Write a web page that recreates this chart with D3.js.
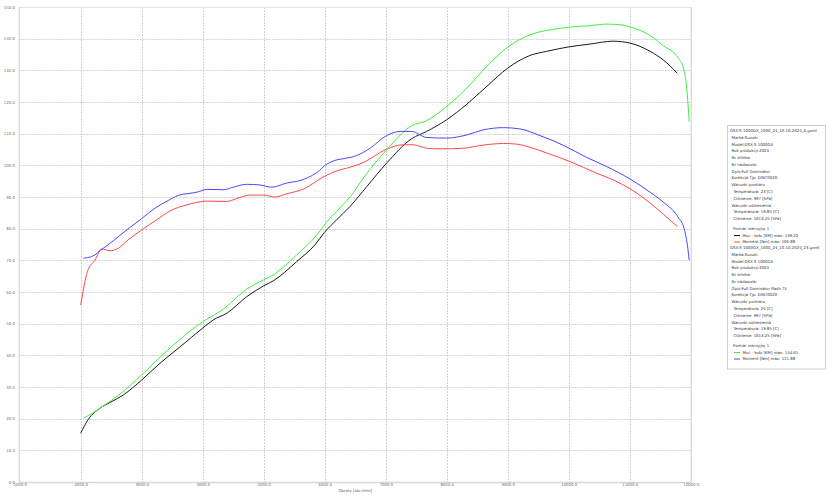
<!DOCTYPE html>
<html><head><meta charset="utf-8">
<script src="https://cdn.jsdelivr.net/npm/d3@7/dist/d3.min.js"></script>
<style>
html,body{margin:0;padding:0;background:#fff;}
svg{display:block;}
text{font-family:"DejaVu Sans",Verdana,sans-serif;}
</style></head>
<body>
<script>
// ---- data ----
const xTicks = [1000,2000,3000,4000,5000,6000,7000,8000,9000,10000,11000,12000];
const yTicks = [0,10,20,30,40,50,60,70,80,90,100,110,120,130,140,150];
const xTitle = "Obroty [obr./min]";

// Run 1: Moc (black)
const power1Rpm = [2000,2125,2315,2480,2700,3000,3300,3630,4000,4175,4395,4720,4995,5155,5540,5840,5995,6195,6415,6690,7015,7425,7670,8000,8330,8655,9000,9365,9640,10000,10350,10730,11005,11335,11550,11780];
const power1 = [15.4,19.8,23.3,25.1,27.5,32.2,37.5,42.7,48.6,51.2,53.3,58.5,61.9,63.5,69.6,74.9,78.8,82.8,87.0,93.3,100.7,108.4,110.7,114.4,119.3,124.9,130.7,134.7,136.0,137.4,138.3,139.2,138.6,136.0,133.3,129.1];

// Run 1: Moment (red)
const torque1Rpm = [2000,2110,2235,2345,2480,2615,2780,3000,3245,3465,3740,4075,4395,4555,4775,4995,5185,5375,5650,5975,6220,6360,6635,7015,7290,7450,7670,7890,8270,8600,8930,9145,9365,9640,10020,10460,10730,11005,11335,11550,11780];
const torque1 = [55.9,66.4,70.1,73.6,73.0,73.8,76.5,79.6,82.8,85.6,87.5,88.7,88.6,89.5,90.6,90.6,90.0,91.0,92.5,96.3,98.4,99.1,100.9,105.1,106.5,106.5,105.4,105.2,105.4,106.4,106.9,106.7,105.7,103.9,101.2,97.5,95.4,92.6,88.1,84.6,80.7];

// Run 2: Moc (green)
const power2Rpm = [2045,2205,2370,2645,3000,3300,3600,4000,4340,4720,4995,5130,5540,5870,6035,6195,6305,6415,6635,7015,7425,7670,8000,8330,8655,9000,9365,9695,10000,10350,10625,10840,11005,11335,11550,11795,11880,11935,11975];
const power2 = [20.1,21.9,24.0,27.8,33.8,39.4,44.6,50.6,54.6,60.9,63.8,65.1,71.7,78.0,82.2,85.4,87.7,90.0,96.0,104.9,112.5,114.1,118.6,124.4,131.2,137.3,141.2,142.8,143.6,144.1,144.6,144.4,143.7,141.0,137.8,133.9,130.7,124.4,113.8];

// Run 2: Moment (blue)
const torque2Rpm = [2045,2180,2370,2535,2755,3000,3220,3435,3600,3900,4075,4340,4500,4720,4940,5130,5375,5595,5870,6035,6195,6305,6525,6745,7015,7235,7425,7670,8000,8330,8600,8930,9200,9530,9915,10295,10625,11005,11335,11550,11795,11890,11945,11975];
const torque2 = [70.7,71.2,73.8,76.2,79.6,83.2,86.5,88.9,90.5,91.5,92.4,92.3,93.1,94.0,93.8,93.1,94.4,95.2,97.7,100.4,101.7,102.1,103.1,105.4,109.4,110.7,110.7,108.8,108.6,109.6,111.2,111.9,111.5,109.4,106.3,102.5,99.6,95.7,91.5,88.4,83.6,80.2,74.9,70.1];

const seriesNames = ["power1","torque1","power2","torque2"];
const seriesColors = ["#1a1a1a","#ff4848","#40ee40","#4848ff"];

const legend1 = [
  "GSX-S 1000GX_1000_24_10.10.2024_6.gxml",
  "Marka:Suzuki","Model:GSX-S 1000GX","Rok produkcji:2024","Nr silnika:","Nr nadwozia:",
  "Opis:Full Dominator","Korekcja Tjp: DIN70020","Warunki pomiaru",
  "Temperatura: 23 [C]","Ciśnienie: 997 [hPa]","Warunki odniesienia",
  "Temperatura: 19.85 [C]","Ciśnienie: 1013.25 [hPa]"
];
const legend2 = [
  "GSX-S 1000GX_1000_24_10.10.2024_23.gxml",
  "Marka:Suzuki","Model:GSX-S 1000GX","Rok produkcji:2024","Nr silnika:","Nr nadwozia:",
  "Opis:Full Dominator  flash 75","Korekcja Tjp: DIN70020","Warunki pomiaru",
  "Temperatura: 25 [C]","Ciśnienie: 997 [hPa]","Warunki odniesienia",
  "Temperatura: 19.85 [C]","Ciśnienie: 1013.25 [hPa]"
];
const runLabel = "Pomiar inercyjny 1";
const legendEntries1 = ["Moc - koło [KM] max: 139.22","Moment [Nm] max: 106.88"];
const legendEntries2 = ["Moc - koło [KM] max: 144.65","Moment [Nm] max: 111.88"];

// ---- drawing ----
const W = 828, H = 499;
const svg = d3.select("body").append("svg").attr("width",W).attr("height",H);
const x = d3.scaleLinear().domain([1000,12000]).range([19.7,690.7]);
const y = d3.scaleLinear().domain([0,150]).range([482,7]);

// grid
const grid = svg.append("g");
grid.selectAll("line.v").data(xTicks.slice(1,-1)).join("line")
  .attr("x1",d=>Math.round(x(d))+0.5).attr("x2",d=>Math.round(x(d))+0.5)
  .attr("y1",y(150)).attr("y2",y(0))
  .attr("stroke","#d2d2d2").attr("stroke-width",1).attr("stroke-dasharray","2,1");
grid.selectAll("line.h").data(yTicks.slice(1,-1)).join("line")
  .attr("y1",d=>Math.round(y(d))+0.5).attr("y2",d=>Math.round(y(d))+0.5)
  .attr("x1",x(1000)).attr("x2",x(12000))
  .attr("stroke","#d2d2d2").attr("stroke-width",1).attr("stroke-dasharray","2,1");

// frame
svg.append("line").attr("x1",x(1000)).attr("x2",x(12000)).attr("y1",y(150)+0.5).attr("y2",y(150)+0.5).attr("stroke","#e2e2e2");
svg.append("line").attr("x1",x(12000)+0.5).attr("x2",x(12000)+0.5).attr("y1",y(150)).attr("y2",y(0)).attr("stroke","#dcdcdc").attr("stroke-width",1.5);
svg.append("line").attr("x1",x(1000)-0.5).attr("x2",x(1000)-0.5).attr("y1",y(150)).attr("y2",y(0)+1).attr("stroke","#d4d4d4").attr("stroke-width",1.2);
svg.append("line").attr("x1",x(1000)).attr("x2",x(12000)+1).attr("y1",y(0)+0.5).attr("y2",y(0)+0.5).attr("stroke","#d8d8d8").attr("stroke-width",1.5);

// axes labels via d3 axes
const fmt = d3.format(".1f");
const yAxis = svg.append("g").attr("transform",`translate(${x(1000)},0)`)
  .call(d3.axisLeft(y).tickValues(yTicks).tickFormat(fmt).tickSize(0).tickPadding(4.7));
const xAxis = svg.append("g").attr("transform",`translate(0,${y(0)})`)
  .call(d3.axisBottom(x).tickValues(xTicks).tickFormat(fmt).tickSize(0).tickPadding(1.5));
[yAxis,xAxis].forEach(a=>{
  a.select(".domain").remove();
  a.selectAll("text").attr("font-size","3.9px").attr("fill","#6a7068").attr("font-family","DejaVu Sans, sans-serif");
});

svg.append("text").attr("x",(x(1000)+x(12000))/2).attr("y",492.2)
  .attr("text-anchor","middle").attr("font-size","3.9px").attr("fill","#555").text(xTitle);

// series
const dataSets = {
  power1: power1Rpm.map((r,i)=>[r,power1[i]]),
  torque1: torque1Rpm.map((r,i)=>[r,torque1[i]]),
  power2: power2Rpm.map((r,i)=>[r,power2[i]]),
  torque2: torque2Rpm.map((r,i)=>[r,torque2[i]])
};
const line = d3.line().x(d=>x(d[0])).y(d=>y(d[1])).curve(d3.curveMonotoneX);
seriesNames.forEach((n,i)=>{
  svg.append("path").attr("d",line(dataSets[n])).attr("fill","none")
    .attr("stroke",seriesColors[i]).attr("stroke-width",1).attr("stroke-linejoin","round");
});

// legend
const lg = svg.append("g");
lg.append("rect").attr("x",727.5).attr("y",125.5).attr("width",98).attr("height",243.5)
  .attr("fill","#fff").attr("stroke","#cfcfcf");
const fs = "3.9px", tc = "#333";
const indent = [0,1,1,1,1,1,1,1,1,2,2,1,2,2];
function block(lines, entries, cols, y0){
  const step = 6.77;
  lines.forEach((t,i)=>{
    lg.append("text").attr("x",730 + (indent[i]===0?0:indent[i]===1?1.6:3.4)).attr("y",y0+i*step)
      .attr("dominant-baseline","middle").attr("font-size",fs).attr("fill",tc).text(t);
  });
  const yp = y0 + 13*step + 10;
  lg.append("text").attr("x",733).attr("y",yp).attr("dominant-baseline","middle")
    .attr("font-size",fs).attr("fill",tc).text(runLabel);
  entries.forEach((t,j)=>{
    const yy = yp + (j+1)*6.5;
    lg.append("line").attr("x1",734).attr("x2",740).attr("y1",yy).attr("y2",yy)
      .attr("stroke",cols[j]).attr("stroke-width",1);
    lg.append("text").attr("x",742.5).attr("y",yy).attr("dominant-baseline","middle")
      .attr("font-size",fs).attr("fill",tc).text(t);
  });
}
block(legend1, legendEntries1, [seriesColors[0],seriesColors[1]], 131);
block(legend2, legendEntries2, [seriesColors[2],seriesColors[3]], 248);
</script>
</body></html>
